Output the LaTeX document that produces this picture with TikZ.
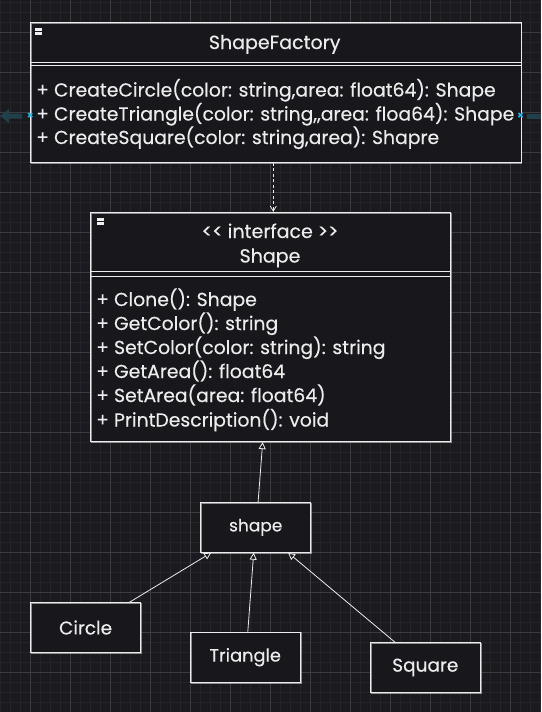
\documentclass[tikz,border=0pt]{standalone}
\usepackage{fontspec}
\setmainfont{Poppins}[UprightFeatures={FakeBold=0.35}]
\usetikzlibrary{arrows.meta,calc}
\definecolor{bg}{HTML}{1B1A1F}
\definecolor{gridminor}{HTML}{25242A}
\definecolor{gridmajor}{HTML}{3C3B41}
\definecolor{ink}{HTML}{ECECEC}
\definecolor{boxfill}{HTML}{18171C}
\definecolor{hint}{HTML}{29B6F2}
\definecolor{ghost}{HTML}{22404C}
\tikzset{
  sketch/.style={draw=ink, line width=0.8pt,
    postaction={draw=ink, line width=0.5pt, opacity=0.55, transform canvas={shift={(0.7pt,-0.6pt)}}}},
  boxshape/.style={sketch, fill=boxfill, rectangle, inner sep=0pt, text=ink},
  sepline/.style={draw=ink, line width=0.8pt},
  methtxt/.style={anchor=base west, text=ink, inner sep=0pt, font=\fontsize{18.8}{20}\selectfont},
  titletxt/.style={anchor=base, text=ink, inner sep=0pt, font=\fontsize{19}{20}\selectfont},
  genarrow/.style={draw=ink, line width=0.8pt, -{Triangle[open, length=7pt, width=7pt, fill=boxfill]}},
  deparrow/.style={draw=ink, line width=0.8pt, dash pattern=on 3pt off 2.5pt, -{Straight Barb[length=5pt, width=6pt]}},
  minus/.style={fill=ink!85, minimum size=7pt, inner sep=0pt, rectangle},
  hintmark/.style={text=hint, inner sep=0pt, font=\fontsize{11}{11}\selectfont\bfseries}
}
\begin{document}
\begin{tikzpicture}[x=1pt,y=-1pt]
\useasboundingbox (0,0) rectangle (541,712);
\fill[bg] (0,0) rectangle (541,712);
% grid
\foreach \gx in {0,10,...,540} \draw[gridminor, line width=0.6pt] (\gx,0) -- (\gx,712);
\foreach \gy in {2.5,12.5,...,712} \draw[gridminor, line width=0.6pt] (0,\gy) -- (541,\gy);
\foreach \gx in {30,70,...,540} \draw[gridmajor, line width=0.7pt] (\gx,0) -- (\gx,712);
\foreach \gy in {32.5,72.5,...,712} \draw[gridmajor, line width=0.7pt] (0,\gy) -- (541,\gy);

% ghost arrows (hover hints)
\fill[ghost] (0,116) -- (9,109) -- (9,113.5) -- (22,113.5) -- (22,118.5) -- (9,118.5) -- (9,123) -- cycle;
\fill[ghost] (527,113.5) rectangle (541,118.5);

% ShapeFactory class
\node[boxshape, minimum width=490.6pt, minimum height=139.6pt] (sf) at (275.7,92.5) {};
\draw[sepline] ($(sf.north west)+(0,39.6)$) coordinate (sfa) -- (sfa -| sf.east);
\draw[sepline] ($(sf.north west)+(0,43.3)$) coordinate (sfb) -- (sfb -| sf.east);
\node[minus] (sfmin) at (38.5,31) {};
\draw[bg, line width=1pt] (sfmin.west) -- (sfmin.east);
\node[titletxt] (sft) at (274.7,49) {ShapeFactory};
\node[methtxt] (sfm1) at (36,96.5) {+ CreateCircle(color: string,area: float64): Shape};
\node[methtxt] (sfm2) at (36,120.5) {+ CreateTriangle(color: string,\kern0pt,area: floa64): Shape};
\node[methtxt] (sfm3) at (36,144) {+ CreateSquare(color: string,area): Shapre};
% hover markers
\node[hintmark] (hx1) at (30.4,115.7) {×};
\node[hintmark] (hx2) at (520.5,115.7) {×};

% Shape interface
\node[boxshape, minimum width=360pt, minimum height=229.4pt] (si) at (270.7,327) {};
\draw[sepline] ($(si.north west)+(0,59.4)$) coordinate (sia) -- (sia -| si.east);
\draw[sepline] ($(si.north west)+(0,64.4)$) coordinate (sib) -- (sib -| si.east);
\node[minus] (simin) at (100,221.7) {};
\draw[bg, line width=1pt] (simin.west) -- (simin.east);
\node[titletxt] (sit1) at (270,238) {<\kern0pt< interface >\kern0pt>};
\node[titletxt] (sit2) at (270,262.5) {Shape};
\node[methtxt] (sim1) at (96,306) {+ Clone(): Shape};
\node[methtxt] (sim2) at (96,330) {+ GetColor(): string};
\node[methtxt] (sim3) at (96,354) {+ SetColor(color: string): string};
\node[methtxt] (sim4) at (96,378) {+ GetArea(): float64};
\node[methtxt] (sim5) at (96,402) {+ SetArea(area: float64)};
\node[methtxt] (sim6) at (96,426.5) {+ PrintDescription(): void};

% lower boxes
\node[boxshape, font=\fontsize{17}{18}\selectfont, minimum width=109.8pt, minimum height=50pt] (shp) at (255.7,527.3) {shape};
\node[boxshape, font=\fontsize{18.5}{18}\selectfont, minimum width=110.4pt, minimum height=49.6pt] (cir) at (85.6,627.5) {Circle};
\node[boxshape, font=\fontsize{17.8}{18}\selectfont, minimum width=110.1pt, minimum height=50.3pt] (tri) at (245.2,657.2) {Triangle};
\node[boxshape, font=\fontsize{18.5}{18}\selectfont, minimum width=110pt, minimum height=49.6pt] (sqr) at (425.3,667.5) {Square};

% connectors
\draw[deparrow] ([xshift=-2.4pt]sf.south) -- ([xshift=2.6pt]si.north);
\draw[genarrow] ([xshift=2.4pt]shp.north) -- ([xshift=-8pt]si.south);
\draw[genarrow] ([xshift=43.8pt]cir.north) -- ([xshift=-44.5pt]shp.south);
\draw[genarrow] ([xshift=2.6pt]tri.north) -- ([xshift=-2pt]shp.south);
\draw[genarrow] ([xshift=-30.2pt]sqr.north) -- ([xshift=32.4pt]shp.south);
\end{tikzpicture}
\end{document}
